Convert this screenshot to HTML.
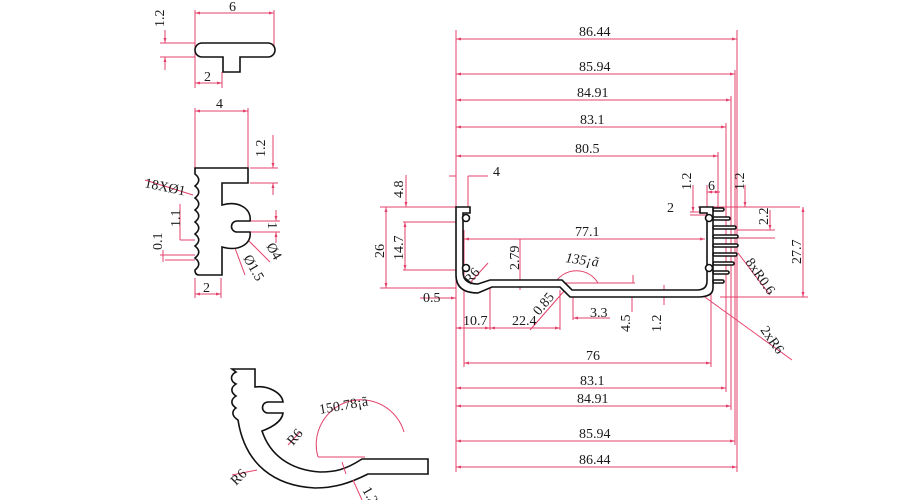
<!DOCTYPE html>
<html><head><meta charset="utf-8"><style>
html,body{margin:0;padding:0;background:#fff;}
svg{display:block;}
text{font-family:"Liberation Serif",serif;font-size:14px;fill:#1a1a1a;}
.r{stroke:#e4426c;stroke-width:1;fill:none;}
.k{stroke:#111;stroke-width:1.6;fill:#fff;}
</style></head><body>
<svg width="900" height="500" viewBox="0 0 900 500" xmlns="http://www.w3.org/2000/svg">
<defs><marker id="a" markerWidth="6" markerHeight="6" refX="5" refY="3" orient="auto-start-reverse"><path d="M0,1.5 L5,3 L0,4.5" fill="#e4426c"/></marker></defs>

<!-- T part -->
<g class="r">
<line x1="195" y1="13" x2="274" y2="13" marker-start="url(#a)" marker-end="url(#a)"/>
<line x1="195" y1="10" x2="195" y2="88"/><line x1="274" y1="10" x2="274" y2="50"/>
<line x1="160" y1="43" x2="195" y2="43"/><line x1="160" y1="57" x2="195" y2="57"/>
<line x1="165" y1="30" x2="165" y2="43" marker-end="url(#a)"/><line x1="165" y1="70" x2="165" y2="57" marker-end="url(#a)"/>
<line x1="195" y1="83" x2="222" y2="83" marker-start="url(#a)" marker-end="url(#a)"/>
<line x1="222" y1="72" x2="222" y2="88"/>
</g>
<path class="k" d="M202,43 H268 A7,7 0 0 1 268,57 H240 V72 H223 V57 H202 A7,7 0 0 1 202,43 Z"/>
<text x="229" y="11">6</text><text x="204" y="81">2</text>
<text x="164" y="27" transform="rotate(-90 164 27)">1.2</text>

<!-- comb part -->
<g class="r">
<line x1="195" y1="111" x2="248" y2="111" marker-start="url(#a)" marker-end="url(#a)"/>
<line x1="195" y1="108" x2="195" y2="168"/><line x1="248" y1="108" x2="248" y2="168"/>
<line x1="250" y1="168" x2="278" y2="168"/><line x1="250" y1="183" x2="278" y2="183"/>
<line x1="273" y1="135" x2="273" y2="168" marker-end="url(#a)"/><line x1="273" y1="195" x2="273" y2="183" marker-end="url(#a)"/>
<line x1="145" y1="180" x2="193" y2="195" />
<line x1="180" y1="240" x2="195" y2="240"/><line x1="180" y1="204" x2="180" y2="240"/>
<line x1="165" y1="260" x2="195" y2="260"/><line x1="160" y1="255" x2="195" y2="255"/>
<line x1="163" y1="250" x2="163" y2="262"/>
<line x1="250" y1="221" x2="280" y2="221"/><line x1="250" y1="232" x2="280" y2="232"/>
<line x1="276" y1="210" x2="276" y2="221" marker-end="url(#a)"/><line x1="276" y1="243" x2="276" y2="232" marker-end="url(#a)"/>
<line x1="232" y1="240" x2="245" y2="275"/><line x1="248" y1="240" x2="270" y2="262"/>
<line x1="195" y1="278" x2="195" y2="298"/><line x1="221" y1="278" x2="221" y2="298"/>
<line x1="195" y1="294" x2="221" y2="294" marker-start="url(#a)" marker-end="url(#a)"/>
</g>
<path class="k" d="M195,168 H248 V183 H222 V205 C240,200 252,210 250,221 H237 A5.5,5.5 0 0 0 237,232 H250 C252,243 240,252 222,247 V275 H199 Q195,275 195,270
 C200,266 200,262 195,258 C200,254 200,250 195,246 C200,242 200,238 195,234 C200,230 200,226 195,222 C200,218 200,214 195,210 C200,206 200,202 195,198 C200,194 200,190 195,186 C200,182 200,178 195,174 Z"/>
<text x="216" y="108">4</text><text x="265" y="157" transform="rotate(-90 265 157)">1.2</text>
<text x="144" y="187" transform="rotate(12 144 187)">18XØ1</text>
<text x="180" y="227" transform="rotate(-90 180 227)">1.1</text>
<text x="162" y="250" transform="rotate(-90 162 250)">0.1</text>
<text x="268" y="222" transform="rotate(90 268 222)">1</text>
<text x="266" y="246" transform="rotate(60 266 246)">Ø4</text>
<text x="243" y="258" transform="rotate(60 243 258)">Ø1.5</text>
<text x="203" y="292">2</text>

<!-- bent part -->
<path class="k" d="M232,369 H255 V387 C268,385 282,393 283,402 H268 A5,5 0 0 0 268,413 H283 C282,422 270,428 262,431 C270,455 290,470 320,472 C335,472 345,470 362,459 H428 V474 H368 C350,483 335,488 315,488 C275,486 245,465 238,420 C230,415 233,410 236,408 C230,404 231,399 236,396 C230,392 231,387 236,384 C230,381 230,375 236,372 Z"/>
<g class="r">
<path d="M318,457 A42,42 0 0 1 404,432"/>
<line x1="318" y1="457" x2="365" y2="457"/>
<line x1="288" y1="445" x2="300" y2="432"/><line x1="232" y1="475" x2="257" y2="470"/>
<line x1="342" y1="462" x2="346" y2="474"/><line x1="353" y1="480" x2="362" y2="500"/>
</g>
<text x="320" y="414" transform="rotate(-10 320 414)">150.78¡ã</text>
<text x="293" y="446" transform="rotate(-50 293 446)">R6</text>
<text x="236" y="486" transform="rotate(-45 236 486)">R6</text>
<text x="362" y="490" transform="rotate(60 362 490)">1.2</text>

<!-- main profile dims -->
<g class="r">
<line x1="456" y1="30" x2="456" y2="472"/>
<line x1="737" y1="30" x2="737" y2="472"/><line x1="735" y1="70" x2="735" y2="445"/>
<line x1="731" y1="96" x2="731" y2="410"/><line x1="726" y1="123" x2="726" y2="392"/>
<line x1="718" y1="152" x2="718" y2="210"/><line x1="711" y1="290" x2="711" y2="367"/>
<line x1="464" y1="295" x2="464" y2="367"/>
<line x1="456" y1="39" x2="737" y2="39" marker-start="url(#a)" marker-end="url(#a)"/>
<line x1="456" y1="74" x2="735" y2="74" marker-start="url(#a)" marker-end="url(#a)"/>
<line x1="456" y1="100" x2="731" y2="100" marker-start="url(#a)" marker-end="url(#a)"/>
<line x1="456" y1="127" x2="726" y2="127" marker-start="url(#a)" marker-end="url(#a)"/>
<line x1="456" y1="156" x2="718" y2="156" marker-start="url(#a)" marker-end="url(#a)"/>
<line x1="464" y1="363" x2="711" y2="363" marker-start="url(#a)" marker-end="url(#a)"/>
<line x1="456" y1="388" x2="726" y2="388" marker-start="url(#a)" marker-end="url(#a)"/>
<line x1="456" y1="406" x2="731" y2="406" marker-start="url(#a)" marker-end="url(#a)"/>
<line x1="456" y1="441" x2="735" y2="441" marker-start="url(#a)" marker-end="url(#a)"/>
<line x1="456" y1="467" x2="737" y2="467" marker-start="url(#a)" marker-end="url(#a)"/>
<!-- left -->
<line x1="380" y1="207" x2="456" y2="207"/><line x1="380" y1="288" x2="456" y2="288"/>
<line x1="386" y1="207" x2="386" y2="288" marker-start="url(#a)" marker-end="url(#a)"/>
<line x1="403" y1="222" x2="463" y2="222"/><line x1="403" y1="270" x2="463" y2="270"/>
<line x1="405" y1="222" x2="405" y2="270" marker-start="url(#a)" marker-end="url(#a)"/>
<line x1="406" y1="175" x2="406" y2="207" marker-end="url(#a)"/>
<line x1="449" y1="176" x2="456" y2="176"/><line x1="468" y1="176" x2="488" y2="176"/>
<line x1="468" y1="176" x2="468" y2="207"/>
<line x1="420" y1="298" x2="456" y2="298" marker-end="url(#a)"/>
<line x1="464" y1="230" x2="464" y2="340"/>
<line x1="490" y1="285" x2="490" y2="330"/><line x1="560" y1="290" x2="560" y2="330"/>
<line x1="456" y1="328" x2="490" y2="328" marker-start="url(#a)" marker-end="url(#a)"/>
<line x1="490" y1="328" x2="560" y2="328" marker-start="url(#a)" marker-end="url(#a)"/>
<line x1="573" y1="295" x2="573" y2="320"/>
<line x1="573" y1="318" x2="610" y2="318" marker-start="url(#a)"/>
<line x1="464" y1="239" x2="705" y2="239" marker-start="url(#a)" marker-end="url(#a)"/>
<line x1="520" y1="239" x2="520" y2="290"/>
<line x1="468" y1="285" x2="488" y2="263"/>
<line x1="530" y1="330" x2="565" y2="290"/>
<path d="M555,283 A25,25 0 0 1 598,283" />
<line x1="560" y1="283" x2="635" y2="283"/><line x1="633" y1="275" x2="633" y2="283"/>
<line x1="632" y1="290" x2="632" y2="312"/><line x1="664" y1="285" x2="664" y2="305"/>
<!-- right -->
<line x1="698" y1="207" x2="800" y2="207"/><line x1="720" y1="297" x2="808" y2="297"/>
<line x1="803" y1="207" x2="803" y2="297" marker-start="url(#a)" marker-end="url(#a)"/>
<line x1="690" y1="212" x2="713" y2="212"/><line x1="690" y1="215" x2="713" y2="215"/>
<line x1="693" y1="185" x2="693" y2="212" marker-end="url(#a)"/>
<line x1="707" y1="192" x2="720" y2="192" marker-start="url(#a)" marker-end="url(#a)"/>
<line x1="707" y1="185" x2="707" y2="207"/>
<line x1="745" y1="185" x2="745" y2="207" marker-end="url(#a)"/>
<line x1="737" y1="230" x2="775" y2="230"/><line x1="737" y1="238" x2="775" y2="238"/>
<line x1="770" y1="210" x2="770" y2="230" marker-end="url(#a)"/>
<line x1="738" y1="253" x2="770" y2="295"/>
<line x1="702" y1="295" x2="792" y2="360"/>
</g>

<!-- main profile body -->
<path class="k" stroke-width="2" d="M456,207 H470 V213 H463 V272 Q463,284 478,284 L490,280 H562 L572,290 H697 Q707,290 707,281 V213 H700 V207 H713 V288 Q713,297 698,297 H570 L560,287 H492 L478,293 Q456,293 456,275 Z"/>
<circle cx="466" cy="218" r="3.5" class="k"/><circle cx="466" cy="268" r="3.5" class="k"/>
<circle cx="709" cy="218" r="3.5" class="k"/><circle cx="709" cy="268" r="3.5" class="k"/>
<g class="k" stroke-width="1.4">
<rect x="713" y="208" width="11" height="3" rx="1.5"/><rect x="713" y="217" width="17" height="3" rx="1.5"/>
<rect x="713" y="226" width="23" height="3" rx="1.5"/><rect x="713" y="235" width="25" height="3" rx="1.5"/>
<rect x="713" y="244" width="25" height="3" rx="1.5"/><rect x="713" y="253" width="24" height="3" rx="1.5"/>
<rect x="713" y="262" width="21" height="3" rx="1.5"/><rect x="713" y="271" width="16" height="3" rx="1.5"/>
<rect x="713" y="280" width="11" height="3" rx="1.5"/>
</g>

<text x="579" y="36">86.44</text><text x="579" y="71">85.94</text><text x="577" y="97">84.91</text>
<text x="580" y="124">83.1</text><text x="575" y="153">80.5</text>
<text x="586" y="360">76</text><text x="580" y="385">83.1</text><text x="577" y="403">84.91</text>
<text x="579" y="438">85.94</text><text x="579" y="464">86.44</text>
<text x="493" y="176">4</text>
<text x="403" y="198" transform="rotate(-90 403 198)">4.8</text>
<text x="384" y="258" transform="rotate(-90 384 258)">26</text>
<text x="403" y="260" transform="rotate(-90 403 260)">14.7</text>
<text x="575" y="236">77.1</text>
<text x="519" y="270" transform="rotate(-90 519 270)">2.79</text>
<text x="470" y="285" transform="rotate(-50 470 285)">R6</text>
<text x="565" y="262" font-style="italic" transform="rotate(8 565 262)">135¡ã</text>
<text x="423" y="302">0.5</text><text x="463" y="325">10.7</text><text x="512" y="325">22.4</text>
<text x="539" y="316" transform="rotate(-50 539 316)">0.85</text>
<text x="590" y="317">3.3</text>
<text x="630" y="332" transform="rotate(-90 630 332)">4.5</text>
<text x="661" y="332" transform="rotate(-90 661 332)">1.2</text>
<text x="691" y="190" transform="rotate(-90 691 190)">1.2</text>
<text x="708" y="190">6</text>
<text x="744" y="190" transform="rotate(-90 744 190)">1.2</text>
<text x="667" y="212">2</text>
<text x="768" y="225" transform="rotate(-90 768 225)">2.2</text>
<text x="801" y="264" transform="rotate(-90 801 264)">27.7</text>
<text x="745" y="262" transform="rotate(55 745 262)">8xR0.6</text>
<text x="760" y="330" transform="rotate(55 760 330)">2xR6</text>
</svg>
</body></html>
